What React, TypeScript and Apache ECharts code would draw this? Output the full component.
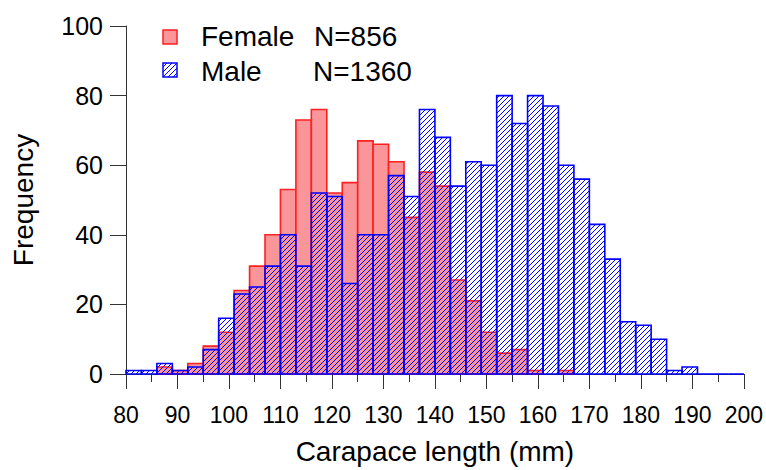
import React, { useEffect, useRef } from 'react';
import * as echarts from 'echarts';

// Histogram bins (start of each 3 mm bin)
const binStarts = [
  80, 83, 86, 89, 92, 95, 98, 101, 104, 107,
  110, 113, 116, 119, 122, 125, 128, 131, 134, 137,
  140, 143, 146, 149, 152, 155, 158, 161, 164, 167,
  170, 173, 176, 179, 182, 185, 188, 191, 194, 197,
];
const binWidth = 3;

const femaleCounts = [
  0, 0, 2, 1, 3, 8, 12, 24, 31, 40,
  53, 73, 76, 52, 55, 67, 66, 61, 45, 58,
  54, 27, 21, 12, 6, 7, 1, 0, 1, 0,
  0, 0, 0, 0, 0, 0, 0, 0, 0, 0,
];
const maleCounts = [
  1, 1, 3, 1, 2, 7, 16, 23, 25, 31,
  40, 31, 52, 51, 26, 40, 40, 57, 51, 76,
  68, 54, 61, 60, 80, 72, 80, 77, 60, 56,
  43, 33, 15, 14, 10, 1, 2, 0, 0, 0,
];

const legendNames = ['Female', 'Male'];
const legendNs = ['N=856', 'N=1360'];

const FONT = '"Liberation Sans", Arial, Helvetica, sans-serif';
const PINK = '#fa959a';
const RED = '#ff2020';
const BLUE = '#0000ff';

function makeHatch(): HTMLCanvasElement {
  const c = document.createElement('canvas');
  c.width = 5;
  c.height = 5;
  const ctx = c.getContext('2d')!;
  ctx.strokeStyle = BLUE;
  ctx.lineWidth = 1;
  ctx.beginPath();
  ctx.moveTo(0, 5);
  ctx.lineTo(5, 0);
  ctx.moveTo(-1, 1);
  ctx.lineTo(1, -1);
  ctx.moveTo(4, 6);
  ctx.lineTo(6, 4);
  ctx.stroke();
  return c;
}

export default function App() {
  const ref = useRef<HTMLDivElement>(null);

  useEffect(() => {
    if (!ref.current) return;
    const chart = echarts.init(ref.current, undefined, { renderer: 'svg' });
    const hatchCanvas = makeHatch();
    const hatch: any = {
      image: hatchCanvas,
      repeat: 'repeat',
      imageWidth: 5,
      imageHeight: 5,
    };

    const femaleData = binStarts.map((s, i) => [s, s + binWidth, femaleCounts[i]]);
    const maleData = binStarts.map((s, i) => [s, s + binWidth, maleCounts[i]]);

    const makeRender = (fill: any, stroke: string, skipZero: boolean) =>
      (params: any, api: any) => {
        const x0 = api.value(0);
        const x1 = api.value(1);
        const v = api.value(2);
        if (skipZero && v === 0) return null;
        const p0 = api.coord([x0, v]);
        const p1 = api.coord([x1, 0]);
        return {
          type: 'rect',
          shape: { x: p0[0], y: p0[1], width: p1[0] - p0[0], height: p1[1] - p0[1] },
          style: { fill, stroke, lineWidth: 1.6 },
        };
      };

    chart.setOption({
      animation: false,
      grid: { left: 126, right: 21, top: 26, bottom: 90 },
      xAxis: {
        type: 'value',
        min: 80,
        max: 200,
        interval: 10,
        name: 'Carapace length (mm)',
        nameLocation: 'middle',
        nameGap: 63,
        nameTextStyle: { fontSize: 28, color: '#000', fontFamily: FONT },
        axisLine: { show: true, lineStyle: { color: '#333', width: 1 } },
        axisTick: { show: true, length: 15, lineStyle: { color: '#333', width: 1 } },
        minorTick: { show: true, splitNumber: 2, length: 8, lineStyle: { color: '#333', width: 1 } },
        splitLine: { show: false },
        minorSplitLine: { show: false },
        axisLabel: { fontSize: 23, color: '#000', fontFamily: FONT, margin: 29 },
      },
      yAxis: {
        type: 'value',
        min: 0,
        max: 100,
        interval: 20,
        name: 'Frequency',
        nameLocation: 'middle',
        nameGap: 89,
        nameTextStyle: { fontSize: 28, color: '#000', fontFamily: FONT },
        axisLine: { show: true, lineStyle: { color: '#333', width: 1 } },
        axisTick: { show: true, length: 16, lineStyle: { color: '#333', width: 1 } },
        splitLine: { show: false },
        axisLabel: { fontSize: 25, color: '#000', fontFamily: FONT, margin: 23 },
      },
      series: [
        {
          type: 'custom',
          name: legendNames[0],
          data: femaleData,
          encode: { x: [0, 1], y: 2 },
          renderItem: makeRender(PINK, RED, true),
          z: 2,
        },
        {
          type: 'custom',
          name: legendNames[1],
          data: maleData,
          encode: { x: [0, 1], y: 2 },
          renderItem: makeRender(hatch, BLUE, false),
          z: 3,
        },
      ],
      graphic: [
        {
          type: 'rect',
          shape: { x: 163, y: 30, width: 14, height: 14 },
          style: { fill: PINK, stroke: RED, lineWidth: 1.5 },
        },
        {
          type: 'text',
          x: 201,
          y: 36,
          style: { text: legendNames[0], fontSize: 28, fontFamily: FONT, fill: '#000', verticalAlign: 'middle' },
        },
        {
          type: 'text',
          x: 314,
          y: 36,
          style: { text: legendNs[0], fontSize: 28, fontFamily: FONT, fill: '#000', verticalAlign: 'middle' },
        },
        {
          type: 'rect',
          shape: { x: 163, y: 63, width: 14, height: 14 },
          style: { fill: hatch, stroke: BLUE, lineWidth: 1.5 },
        },
        {
          type: 'text',
          x: 201,
          y: 71,
          style: { text: legendNames[1], fontSize: 28, fontFamily: FONT, fill: '#000', verticalAlign: 'middle' },
        },
        {
          type: 'text',
          x: 313,
          y: 71,
          style: { text: legendNs[1], fontSize: 28, fontFamily: FONT, fill: '#000', verticalAlign: 'middle' },
        },
      ],
    });

    return () => chart.dispose();
  }, []);

  return (
    <div
      ref={ref}
      style={{ position: 'fixed', left: 0, top: 0, width: 766, height: 470, background: '#fff' }}
    />
  );
}
